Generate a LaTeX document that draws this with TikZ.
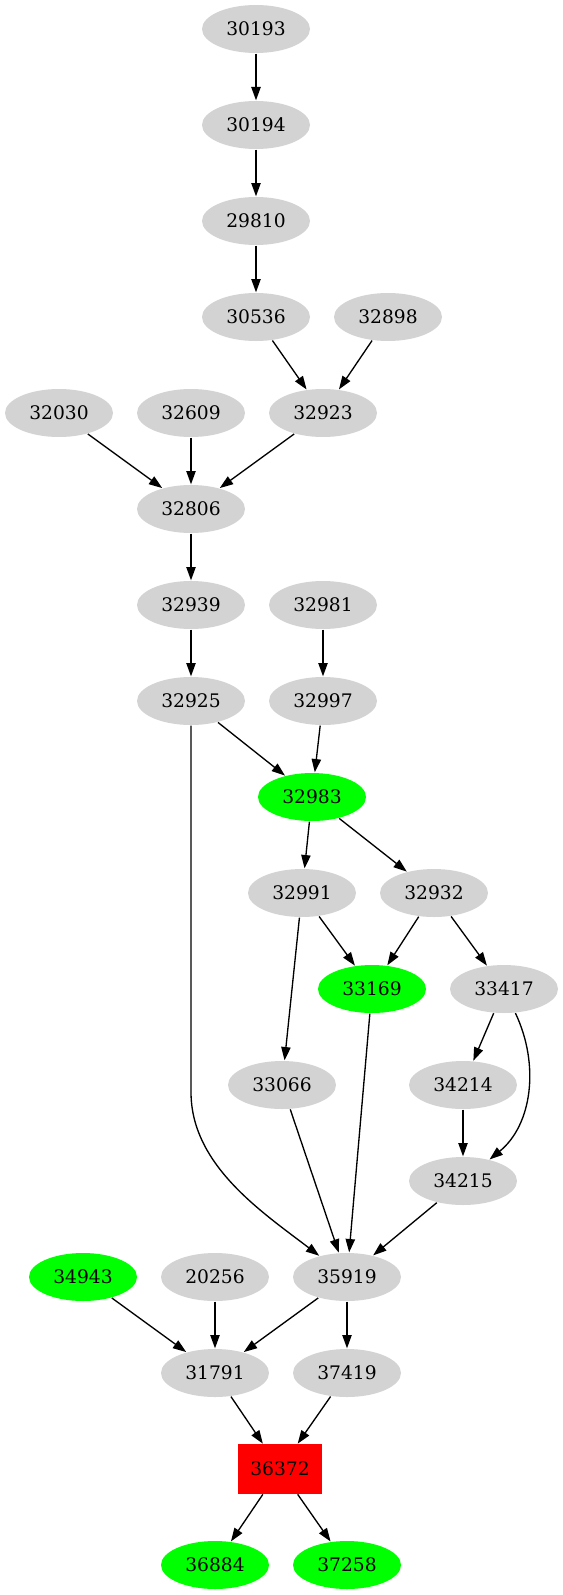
\documentclass[tikz,border=0pt]{standalone}
\usepackage{fontspec}
\setmainfont{DejaVu Serif}
\usepackage{tikz}
\usetikzlibrary{shapes, arrows.meta, calc}

\definecolor{lgray}{RGB}{211,211,211}
\definecolor{hitgreen}{RGB}{0,255,0}
\definecolor{rootred}{RGB}{255,0,0}

\begin{document}
\begin{tikzpicture}[
    x=0.75pt, y=-0.75pt,
    > = {Triangle[length=10pt, width=7pt]},
    line width=1pt,
    gnode/.style={ellipse, fill=lgray, minimum width=81pt, minimum height=36pt, inner sep=0pt, font=\fontsize{14}{16}\selectfont},
    hit/.style={gnode, fill=hitgreen},
    root/.style={rectangle, fill=rootred, minimum width=63pt, minimum height=37pt, inner sep=0pt, font=\fontsize{14}{16}\selectfont}
]
\useasboundingbox (0,0) rectangle (563,1595);

% --- upper chain ---
\node[gnode] (n30193) at (256,29) {30193};
\node[gnode] (n30194) at (256,125) {30194};
\node[gnode] (n29810) at (256,221) {29810};
\node[gnode] (n30536) at (256,317) {30536};
\node[gnode] (n32898) at (388,317) {32898};
\node[gnode] (n32030) at (59,413) {32030};
\node[gnode] (n32609) at (191,413) {32609};
\node[gnode] (n32923) at (323,413) {32923};
\node[gnode] (n32806) at (191,509) {32806};
\node[gnode] (n32939) at (191,605) {32939};
\node[gnode] (n32981) at (323,605) {32981};
\node[gnode] (n32925) at (191,701) {32925};
\node[gnode] (n32997) at (323,701) {32997};

% --- middle ---
\node[hit]   (n32983) at (312,797) {32983};
\node[gnode] (n32991) at (302,893) {32991};
\node[gnode] (n32932) at (434,893) {32932};
\node[hit]   (n33169) at (372,989) {33169};
\node[gnode] (n33417) at (504,989) {33417};
\node[gnode] (n33066) at (282,1085) {33066};
\node[gnode] (n34214) at (463,1085) {34214};
\node[gnode] (n34215) at (463,1181) {34215};

% --- lower part ---
\node[hit]   (n34943) at (83,1277) {34943};
\node[gnode] (n20256) at (215,1277) {20256};
\node[gnode] (n35919) at (347,1277) {35919};
\node[gnode] (n31791) at (215,1373) {31791};
\node[gnode] (n37419) at (347,1373) {37419};
\node[root]  (n36372) at (280,1469) {36372};
\node[hit]   (n36884) at (215,1565) {36884};
\node[hit]   (n37258) at (347,1565) {37258};

% edges
\draw[->] (n30193) -- (n30194);
\draw[->] (n30194) -- (n29810);
\draw[->] (n29810) -- (n30536);
\draw[->] (n30536) -- (n32923);
\draw[->] (n32898) -- (n32923);
\draw[->] (n32030) -- (n32806);
\draw[->] (n32609) -- (n32806);
\draw[->] (n32923) -- (n32806);
\draw[->] (n32806) -- (n32939);
\draw[->] (n32939) -- (n32925);
\draw[->] (n32981) -- (n32997);
\draw[->] (n32925) -- (n32983);
\draw[->] (n32997) -- (n32983);
\draw[->] (n32983) -- (n32991);
\draw[->] (n32983) -- (n32932);
\draw[->] (n32991) -- (n33169);
\draw[->] (n32932) -- (n33169);
\draw[->] (n32932) -- (n33417);
\draw[->] (n32991) -- (n33066);
\draw[->] (n33417) -- (n34214);
\draw[->] (n33417) .. controls (540,1065) and (532,1125) .. (n34215);
\draw[->] (n34214) -- (n34215);
% long edge down the left side
\coordinate (bend) at (191,1092);
\draw[->] (n32925) -- (bend) .. controls (191,1165) and (262,1212) .. (n35919);
\draw[->] (n33066) -- (n35919);
\draw[->] (n33169) -- (n35919);
\draw[->] (n34215) -- (n35919);
\draw[->] (n34943) -- (n31791);
\draw[->] (n20256) -- (n31791);
\draw[->] (n35919) -- (n31791);
\draw[->] (n35919) -- (n37419);
\draw[->] (n31791) -- (n36372);
\draw[->] (n37419) -- (n36372);
\draw[->] (n36372) -- (n36884);
\draw[->] (n36372) -- (n37258);

\end{tikzpicture}
\end{document}
